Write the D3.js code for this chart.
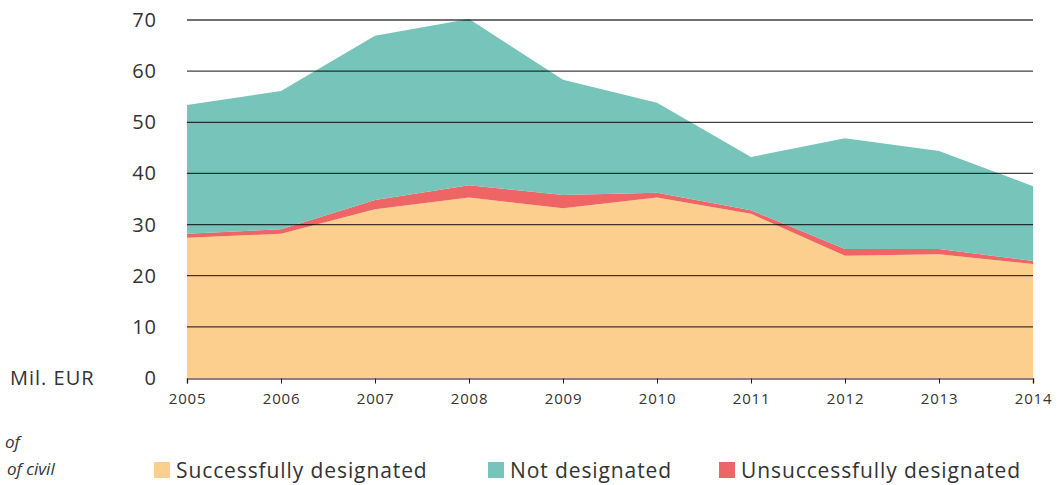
<!DOCTYPE html>
<html>
<head>
<meta charset="utf-8">
<script src="https://cdn.jsdelivr.net/npm/d3@7"></script>
<style>
  body { margin: 0; background: #fff; }
  text { font-family: "Open Sans", "Lato", sans-serif; font-weight: 400; fill: #333; }
</style>
</head>
<body>
<script>
var years = ['2005','2006','2007','2008','2009','2010','2011','2012','2013','2014'];
var successful = [27.4, 28.2, 33.0, 35.3, 33.2, 35.3, 32.1, 23.9, 24.2, 22.3];
var unsuccessful = [0.8, 0.9, 1.8, 2.4, 2.6, 0.9, 0.7, 1.3, 1.0, 0.6];
var notDesignated = [25.2, 27.0, 32.1, 32.5, 22.5, 17.6, 10.4, 21.7, 19.2, 14.6];
var yTicks = [0, 10, 20, 30, 40, 50, 60, 70];
var seriesNames = ['Successfully designated', 'Not designated', 'Unsuccessfully designated'];

var width = 1058, height = 485;
var margin = {left: 187, right: 25, top: 20, bottom: 107};

// stack order: successful at the bottom, then unsuccessful, then not designated
var rows = years.map(function(y, i) {
  return {year: y, successful: successful[i], unsuccessful: unsuccessful[i], notDesignated: notDesignated[i]};
});
var stack = d3.stack().keys(['successful', 'unsuccessful', 'notDesignated']);
var layers = stack(rows);
var colors = {successful: '#fdcf8f', unsuccessful: '#ef6464', notDesignated: '#76c4ba'};

var x = d3.scalePoint()
  .domain(years)
  .range([margin.left, width - margin.right]);
var y = d3.scaleLinear()
  .domain([0, 70])
  .range([height - margin.bottom, margin.top]);

var svg = d3.select('body').append('svg')
  .attr('width', width)
  .attr('height', height);

var area = d3.area()
  .x(function(d) { return x(d.data.year); })
  .y0(function(d) { return y(d[0]); })
  .y1(function(d) { return y(d[1]); });

svg.selectAll('path.layer')
  .data(layers)
  .enter().append('path')
  .attr('class', 'layer')
  .attr('fill', function(d) { return colors[d.key]; })
  .attr('d', area);

// gridlines drawn over the areas
svg.append('g')
  .selectAll('line')
  .data(yTicks.slice(1))
  .enter().append('line')
  .attr('x1', margin.left)
  .attr('x2', width - margin.right)
  .attr('y1', function(d) { return y(d); })
  .attr('y2', function(d) { return y(d); })
  .attr('stroke', 'rgba(0,0,0,0.75)')
  .attr('stroke-width', 1.3);

// y labels
svg.append('g')
  .selectAll('text')
  .data(yTicks)
  .enter().append('text')
  .attr('x', 157)
  .attr('y', function(d) { return y(d) + 7; })
  .attr('text-anchor', 'end')
  .style('font-size', '20px')
  .style('letter-spacing', '1px')
  .text(function(d) { return d; });

svg.append('text')
  .attr('x', 10)
  .attr('y', y(0) + 7)
  .style('font-size', '20px')
  .style('letter-spacing', '1px')
  .text('Mil. EUR');

// x axis
var xAxis = d3.axisBottom(x).tickSize(5).tickPadding(10);
var gx = svg.append('g')
  .attr('transform', 'translate(0,' + (y(0) + 0.5) + ')')
  .call(xAxis);
gx.select('.domain').attr('stroke', '#6b5a44').attr('stroke-width', 1.5);
gx.selectAll('.tick line').attr('stroke', '#222');
gx.selectAll('.tick text')
  .style('font-size', '15px')
  .style('font-family', '"Open Sans", "Lato", sans-serif')
  .style('letter-spacing', '0.8px')
  .attr('fill', '#333');

// clipped side notes
svg.append('text')
  .attr('x', 5).attr('y', 448)
  .style('font-size', '17px').style('font-style', 'italic')
  .text('of');
svg.append('text')
  .attr('x', 7).attr('y', 475)
  .style('font-size', '17px').style('font-style', 'italic')
  .text('of civil');

// legend
var legendX = [154, 488, 719];
var legendColors = [colors.successful, colors.notDesignated, colors.unsuccessful];
var legend = svg.append('g')
  .selectAll('g')
  .data(seriesNames)
  .enter().append('g')
  .attr('transform', function(d, i) { return 'translate(' + legendX[i] + ',462)'; });
legend.append('rect')
  .attr('width', 16).attr('height', 16)
  .attr('fill', function(d, i) { return legendColors[i]; });
legend.append('text')
  .attr('x', 22).attr('y', 16)
  .style('font-size', '21px')
  .style('letter-spacing', '0.9px')
  .text(function(d) { return d; });
</script>
</body>
</html>
